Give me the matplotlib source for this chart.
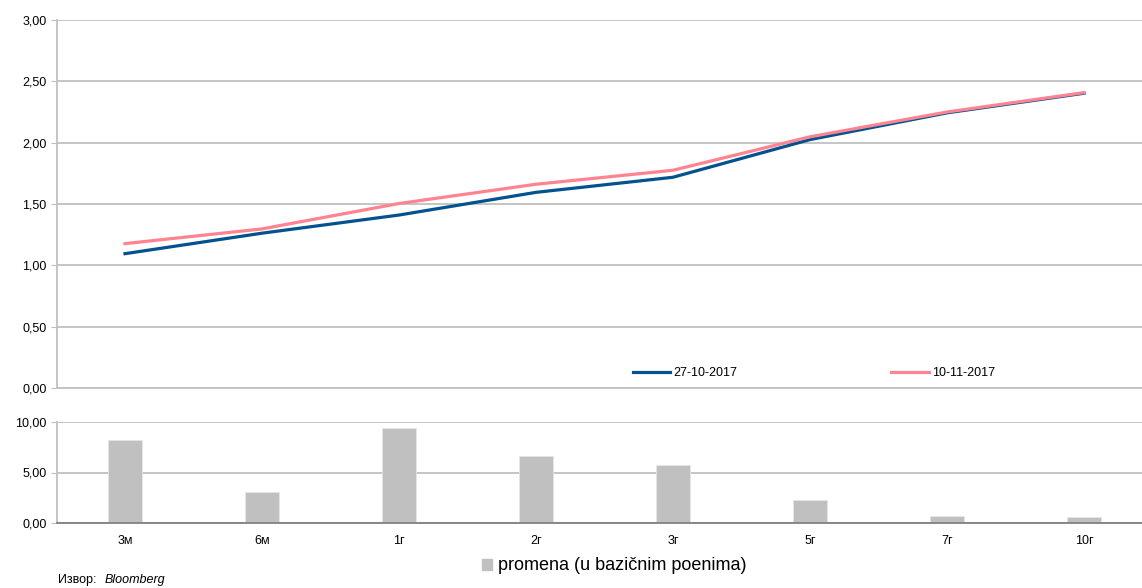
import matplotlib
matplotlib.use("Agg")
import matplotlib.pyplot as plt
from matplotlib.ticker import FuncFormatter, MultipleLocator
from matplotlib.patches import Patch

plt.rcParams['font.family'] = ['Liberation Sans', 'DejaVu Sans']

categories = ['3м', '6м', '1г', '2г', '3г', '5г', '7г', '10г']
yield_old = [1.095, 1.262, 1.410, 1.595, 1.718, 2.025, 2.243, 2.403]
yield_new = [1.177, 1.297, 1.504, 1.661, 1.775, 2.048, 2.250, 2.408]
change_bp = [8.2, 3.1, 9.4, 6.6, 5.7, 2.3, 0.7, 0.6]
label_old = '27-10-2017'
label_new = '10-11-2017'
label_change = 'promena (u bazičnim poenima)'

W, H = 1142, 588
fig = plt.figure(figsize=(W / 100, H / 100), dpi=100)

grid_c = '#c0c0c0'
fmt = FuncFormatter(lambda v, p: f"{v:.2f}".replace('.', ','))
x = list(range(len(categories)))


def style(ax):
    ax.grid(axis='y', color=grid_c, linewidth=1.3)
    ax.set_axisbelow(True)
    for s in ['top', 'right']:
        ax.spines[s].set_visible(False)
    ax.spines['left'].set_color(grid_c)
    ax.spines['left'].set_linewidth(1.3)
    ax.tick_params(axis='y', length=4, color=grid_c, labelsize=9, pad=3)
    ax.yaxis.set_major_formatter(fmt)
    ax.set_xlim(-0.5, len(categories) - 0.5)


# top: yield curves
ax1 = fig.add_axes([56.5 / W, (H - 388) / H, 1096 / W, 368 / H])
style(ax1)
ax1.plot(x, yield_old, color='#02528f', lw=2.3, label=label_old)
ax1.plot(x, yield_new, color='#ff8391', lw=2.3, label=label_new)
ax1.set_ylim(0, 3)
ax1.yaxis.set_major_locator(MultipleLocator(0.5))
ax1.spines['bottom'].set_color(grid_c)
ax1.spines['bottom'].set_linewidth(1.3)
ax1.tick_params(axis='x', bottom=False, labelbottom=False)
ax1.legend(loc='center left', bbox_to_anchor=(0.5213, 0.04), ncol=2, frameon=False,
           fontsize=9, handlelength=3.0, handletextpad=0.25, columnspacing=12.3,
           borderaxespad=0)

# bottom: change in bp
ax2 = fig.add_axes([56.5 / W, (H - 523) / H, 1096 / W, 101 / H])
style(ax2)
ax2.bar(x, change_bp, width=0.255, color='#c0c0c0', edgecolor='#e6e6e6', linewidth=0.6)
ax2.set_ylim(0, 10)
ax2.yaxis.set_major_locator(MultipleLocator(5))
ax2.spines['bottom'].set_color('#808080')
ax2.spines['bottom'].set_linewidth(1.3)
ax2.set_xticks(x)
ax2.set_xticklabels(categories, fontsize=9)
ax2.tick_params(axis='x', length=0, pad=9)

fig.legend(handles=[Patch(color='#c0c0c0', label=label_change)],
           loc='center left', bbox_to_anchor=(466 / W, 1 - 566 / H), frameon=False,
           handlelength=0.55, handleheight=0.55, handletextpad=0.3,
           prop={'family': ['Liberation Sans Narrow', 'Liberation Sans'], 'size': 13})

fig.text(58 / W, 1 - 580 / H, 'Извор: ', fontsize=9, va='center', ha='left')
fig.text(105 / W, 1 - 580 / H, 'Bloomberg', fontsize=9, va='center', ha='left',
         style='italic')

fig.savefig('out.png', dpi=100)
